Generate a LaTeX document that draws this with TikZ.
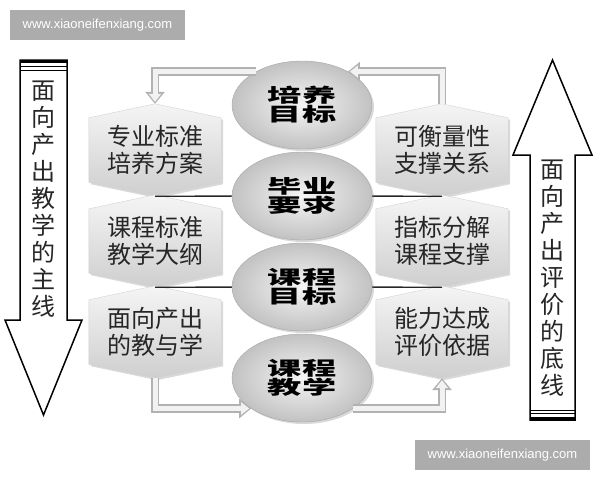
\documentclass[tikz,border=0pt]{standalone}
\usepackage{graphicx}
\usepackage{fontspec}
\setmainfont{Liberation Sans}
\newfontfamily\cjk{Noto Sans CJK SC}
\usetikzlibrary{arrows.meta,shapes.geometric,shadows,backgrounds}

\newcommand{\wide}[1]{\scalebox{1.8}[1]{#1}}

\begin{document}
\begin{tikzpicture}[x=1pt, y=-1pt,
    hexa/.style = {rectangle, minimum width=132pt, minimum height=92pt, inner sep=0pt,
        align=center, text=black!85, font=\cjk\fontsize{24}{27}\selectfont},
    hexface/.style = {draw=gray!35, top color=gray!8, bottom color=gray!38,
        drop shadow={opacity=0.3, shadow xshift=2pt, shadow yshift=-2pt}},
    goal/.style = {ellipse, minimum width=140pt, minimum height=88pt, inner sep=0pt, draw=gray!70,
        inner color=gray!8, outer color=gray!48, align=center,
        drop shadow={opacity=0.3, shadow xshift=2pt, shadow yshift=-2pt},
        font=\cjk\bfseries\fontsize{19}{18}\selectfont},
    flow/.style = {line width=5pt, draw=gray!10, line join=miter, shorten >=2pt,
        -{Triangle[length=8pt,width=12pt]},
        preaction={draw=gray!60, line width=8.5pt, shorten >=0pt, -{Triangle[length=12pt,width=19pt]}}},
    link/.style = {line width=1.3pt, black!85},
    bigarrow/.style = {line width=1.5pt, fill=white},
    vtext/.style = {align=center, font=\cjk\fontsize{24}{27}\selectfont, text=black!85},
    wmark/.style = {fill=gray!65, text=white, minimum width=175pt, minimum height=30pt,
        font=\fontsize{13}{13}\selectfont}]

\useasboundingbox (0,0) rectangle (600,480);

% watermarks
\node[wmark] (wm1) at (97.5,25) {www.xiaoneifenxiang.com};
\node[wmark] (wm2) at (502.5,455) {www.xiaoneifenxiang.com};

% left arrow: teaching main line
\draw[bigarrow] (20,60) -- (67,60) -- (67,320) -- (82,320) -- (43.5,415) -- (5,320) -- (20,320) -- cycle;
\draw[line width=3pt] (20,61.5) -- (67,61.5);
\draw[line width=1pt] (20,66.5) -- (67,66.5);
\draw[line width=0.6pt] (20,70) -- (67,70);
\node[vtext] (mainline) at (43.5,199) {面\\向\\产\\出\\教\\学\\的\\主\\线};

% right arrow: evaluation bottom line
\draw[bigarrow] (530,420) -- (530,155) -- (513,155) -- (552.5,60) -- (592,155) -- (575,155) -- (575,420) -- cycle;
\draw[line width=3pt] (530,418.5) -- (575,418.5);
\draw[line width=1pt] (530,413.5) -- (575,413.5);
\draw[line width=0.6pt] (530,410) -- (575,410);
\node[vtext] (baseline) at (552.5,278) {面\\向\\产\\出\\评\\价\\的\\底\\线};

% hexagons
\node[hexa] (lhex1) at (155,150) {专业标准\\培养方案};
\node[hexa] (lhex2) at (155,241) {课程标准\\教学大纲};
\node[hexa] (lhex3) at (155,332) {面向产出\\的教与学};
\node[hexa] (rhex1) at (442,150) {可衡量性\\支撑关系};
\node[hexa] (rhex2) at (442,241) {指标分解\\课程支撑};
\node[hexa] (rhex3) at (442,332) {能力达成\\评价依据};

\begin{scope}[on background layer]
  \foreach \n in {lhex1,lhex2,lhex3,rhex1,rhex2,rhex3}
    \path[hexface] (\n.north) -- ([yshift=-14pt]\n.north east) -- ([yshift=14pt]\n.south east)
      -- (\n.south) -- ([yshift=14pt]\n.south west) -- ([yshift=-14pt]\n.north west) -- cycle;
\end{scope}

% links
\draw[link] (lhex1.south) -- (300,196);
\draw[link] (lhex2.south) -- (300,287);
\draw[link] (rhex1.south) -- (300,196);
\draw[link] (rhex2.south) -- (300,287);

% goals
\node[goal] (ell1) at (302,105) {\wide{培养}\\\wide{目标}};
\node[goal] (ell2) at (302,196) {\wide{毕业}\\\wide{要求}};
\node[goal] (ell3) at (302,287) {\wide{课程}\\\wide{目标}};
\node[goal] (ell4) at (302,378) {\wide{课程}\\\wide{教学}};

% feedback loop
\draw[flow] (rhex1.north) |- (ell1.36);
\draw[flow] (ell1.144) -| (lhex1.north);
\draw[flow] (lhex3.south) |- (ell4.211);
\draw[flow] (ell4.-31) -| (rhex3.south);

\end{tikzpicture}
\end{document}
